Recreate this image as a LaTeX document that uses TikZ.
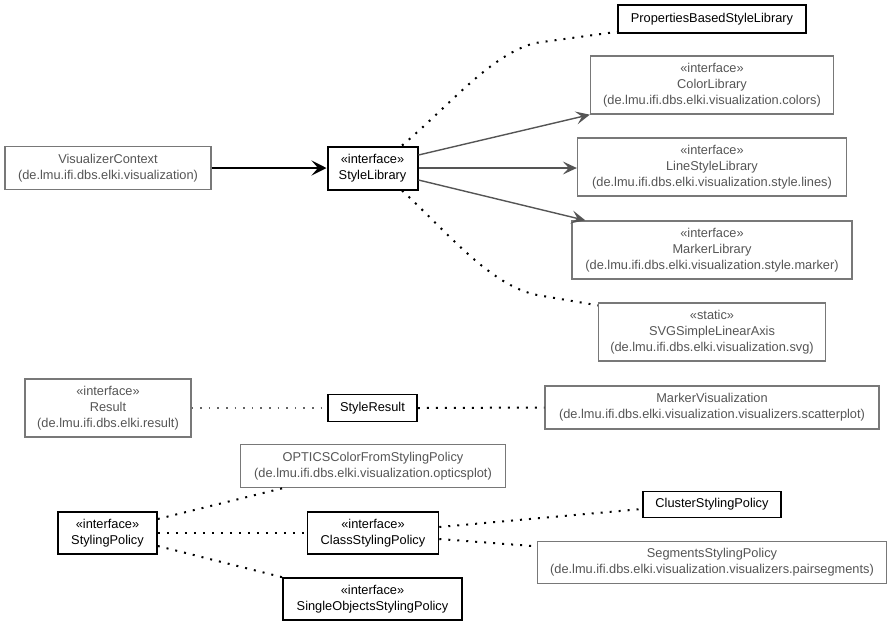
\documentclass[tikz,border=0pt]{standalone}
\usepackage{fontspec}
\setmainfont{Liberation Sans}
\usetikzlibrary{arrows.meta}
\definecolor{gborder}{RGB}{120,120,120}
\definecolor{gtext}{RGB}{85,85,85}
\definecolor{garrow}{RGB}{85,85,85}
\definecolor{gdot}{RGB}{100,100,100}
\begin{document}
\begin{tikzpicture}[x=1pt,y=-1pt,
  every node/.style={font=\fontsize{12.8}{16}\selectfont, align=center, inner sep=0pt},
  gbox/.style={draw=gborder, line width=1.3pt, text=gtext, fill=white},
  bbox/.style={draw=black, line width=1.6pt, text=black, fill=white},
  dots/.style={line width=2pt, dash pattern=on 2pt off 7pt, black},
  gdots/.style={line width=1.6pt, dash pattern=on 1.6pt off 7pt, gdot},
  garr/.style={draw=garrow, line width=1.4pt, -{Stealth[length=14pt,width=13pt,inset=6pt]}},
  barr/.style={draw=black, line width=2pt, -{Stealth[length=15pt,width=15pt,inset=6.5pt]}}
]
\path[use as bounding box] (0,0) rectangle (893,627);

% nodes
\node[bbox, minimum width=188, minimum height=28] (props) at (712,19) {PropertiesBasedStyleLibrary};
\node[gbox, minimum width=243, minimum height=58] (color) at (712,85) {«interface»\\ColorLibrary\\(de.lmu.ifi.dbs.elki.visualization.colors)};
\node[gbox, minimum width=206, minimum height=43] (viz) at (108,168) {VisualizerContext\\(de.lmu.ifi.dbs.elki.visualization)};
\node[bbox, line width=2pt, minimum width=90, minimum height=43] (style) at (372.5,168) {«interface»\\StyleLibrary};
\node[gbox, minimum width=269, minimum height=58] (line) at (712,167) {«interface»\\LineStyleLibrary\\(de.lmu.ifi.dbs.elki.visualization.style.lines)};
\node[gbox, minimum width=280, minimum height=58] (marker) at (712,250) {«interface»\\MarkerLibrary\\(de.lmu.ifi.dbs.elki.visualization.style.marker)};
\node[gbox, minimum width=227, minimum height=58] (svg) at (712,332) {«static»\\SVGSimpleLinearAxis\\(de.lmu.ifi.dbs.elki.visualization.svg)};
\node[gbox, minimum width=166, minimum height=58] (result) at (108,408) {«interface»\\Result\\(de.lmu.ifi.dbs.elki.result)};
\node[bbox, minimum width=89, minimum height=27] (styleresult) at (372.5,408) {StyleResult};
\node[gbox, minimum width=334, minimum height=43] (markerviz) at (712,407.5) {MarkerVisualization\\(de.lmu.ifi.dbs.elki.visualization.visualizers.scatterplot)};
\node[gbox, minimum width=265, minimum height=43] (optics) at (373,466) {OPTICSColorFromStylingPolicy\\(de.lmu.ifi.dbs.elki.visualization.opticsplot)};
\node[bbox, minimum width=99, minimum height=42] (stylingpolicy) at (107.5,533) {«interface»\\StylingPolicy};
\node[bbox, minimum width=131, minimum height=42] (classsp) at (373,533) {«interface»\\ClassStylingPolicy};
\node[bbox, minimum width=138, minimum height=26] (cluster) at (712,504.5) {ClusterStylingPolicy};
\node[gbox, minimum width=349, minimum height=42] (segments) at (712,562.5) {SegmentsStylingPolicy\\(de.lmu.ifi.dbs.elki.visualization.visualizers.pairsegments)};
\node[bbox, minimum width=179, minimum height=42] (single) at (372.5,599) {«interface»\\SingleObjectsStylingPolicy};

% bend coordinates
\coordinate (bendA) at (535,43);
\coordinate (bendB) at (537,295);

% connectors
\draw[barr] (viz.east) -- (style.west);
\draw[garr] ([yshift=13pt]style.east) -- (color.south west);
\draw[garr] (style.east) -- (style.east -| line.west);
\draw[garr] ([yshift=-12pt]style.east) -- ([xshift=14pt]marker.north west);
\draw[dots] ([xshift=29.5pt]style.north) .. controls (450,105) and (490,55) .. (bendA) -- ([yshift=2pt]props.south west);
\draw[dots] ([xshift=29.5pt]style.south) .. controls (450,235) and (490,285) .. (bendB) -- ([yshift=-3pt]svg.north west);
\draw[gdots] (result.east) -- (styleresult.west);
\draw[dots] (styleresult.east) -- (markerviz.west);
\draw[dots] ([yshift=14pt]stylingpolicy.east) -- ([xshift=43pt]optics.south west);
\draw[dots] (stylingpolicy.east) -- (classsp.west);
\draw[dots] ([yshift=-13pt]stylingpolicy.east) -- (single.north west);
\draw[dots] ([yshift=6pt]classsp.east) -- ([yshift=-4.5pt]cluster.west);
\draw[dots] ([yshift=-6pt]classsp.east) -- ([yshift=-5.5pt]segments.north west);
\end{tikzpicture}
\end{document}
